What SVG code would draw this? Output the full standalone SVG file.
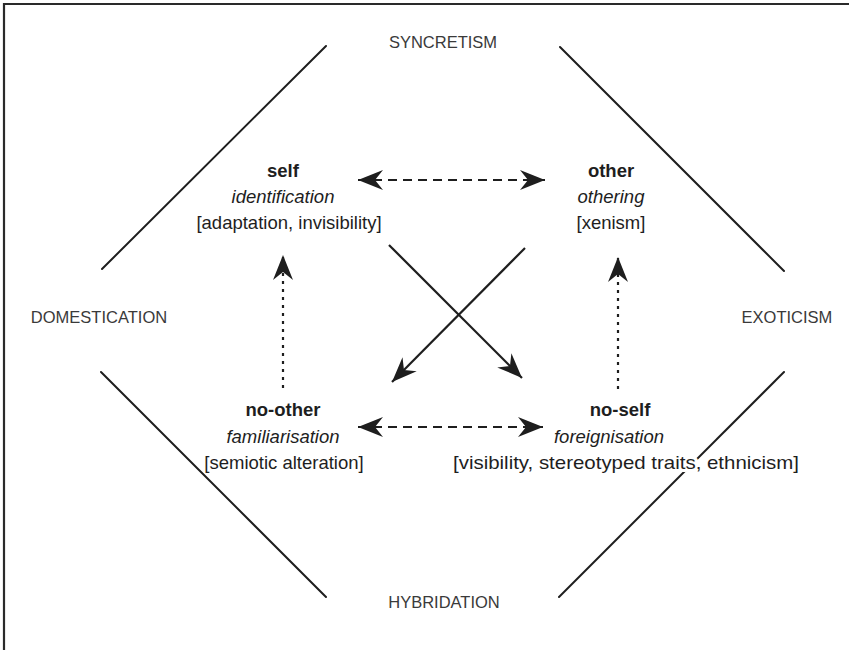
<svg xmlns="http://www.w3.org/2000/svg" width="849" height="650" viewBox="0 0 849 650">
<defs>
<style>
.frame{fill:none;stroke:#2a2a2a;stroke-width:2.2}
.side{stroke:#1e1e1e;stroke-width:2;fill:none;stroke-linecap:round}
.lab{font-family:"Liberation Sans",Arial,sans-serif;font-size:16.5px;fill:#3a3a3a;text-anchor:middle}
.t{font-family:"Liberation Sans",Arial,sans-serif;font-size:18.5px;fill:#1e1e1e;text-anchor:middle}
.b{font-weight:bold}
.i{font-style:italic}
.solid{stroke:#1e1e1e;stroke-width:2.2;fill:none}
.dash{stroke:#1e1e1e;stroke-width:2.2;fill:none;stroke-dasharray:9 6}
.dot{stroke:#1e1e1e;stroke-width:2.2;fill:none;stroke-dasharray:3 5}
</style>
<marker id="ah" viewBox="-26 -12 28 24" refX="0" refY="0" markerWidth="28" markerHeight="24" markerUnits="userSpaceOnUse" orient="auto-start-reverse">
<path d="M0,0 L-25,-10 L-17,0 L-25,10 Z" fill="#1e1e1e"/>
</marker>
</defs>
<rect width="849" height="650" fill="#fff"/>
<path class="frame" d="M4,650 V4 H849"/>
<g id="sides">
<line class="side" x1="326" y1="46" x2="102" y2="269"/>
<line class="side" x1="560" y1="47" x2="784" y2="271"/>
<line class="side" x1="101" y1="372" x2="326" y2="597"/>
<line class="side" x1="784" y1="372" x2="559" y2="597"/>
</g>
<g id="labels">
<text class="lab" x="443" y="48">SYNCRETISM</text>
<text class="lab" x="99" y="323">DOMESTICATION</text>
<text class="lab" x="787" y="323">EXOTICISM</text>
<text class="lab" x="444" y="608">HYBRIDATION</text>
</g>
<g id="connectors">
<line class="dash" x1="358" y1="180" x2="545" y2="180" marker-start="url(#ah)" marker-end="url(#ah)"/>
<line class="dash" x1="358" y1="427" x2="543" y2="427" marker-start="url(#ah)" marker-end="url(#ah)"/>
<line class="dot" x1="283" y1="388" x2="283" y2="255" marker-end="url(#ah)"/>
<line class="dot" x1="618" y1="389" x2="618" y2="257" marker-end="url(#ah)"/>
<line class="solid" x1="389" y1="245" x2="522" y2="378" marker-end="url(#ah)"/>
<line class="solid" x1="525" y1="248" x2="392" y2="382" marker-end="url(#ah)"/>
</g>
<g id="node-self">
<text class="t b" x="283" y="177">self</text>
<text class="t i" x="283" y="203">identification</text>
<text class="t" x="289" y="229">[adaptation, invisibility]</text>
</g>
<g id="node-other">
<text class="t b" x="611" y="177">other</text>
<text class="t i" x="611" y="203">othering</text>
<text class="t" x="611" y="229">[xenism]</text>
</g>
<g id="node-no-other">
<text class="t b" x="283" y="416">no-other</text>
<text class="t i" x="283" y="443">familiarisation</text>
<text class="t" x="284" y="469">[semiotic alteration]</text>
</g>
<g id="node-no-self">
<text class="t b" x="620" y="416">no-self</text>
<text class="t i" x="609" y="443">foreignisation</text>
<text class="t" x="626" y="469" textLength="346" lengthAdjust="spacingAndGlyphs" stroke="#fff" stroke-width="6" paint-order="stroke">[visibility, stereotyped traits, ethnicism]</text>
</g>
</svg>
